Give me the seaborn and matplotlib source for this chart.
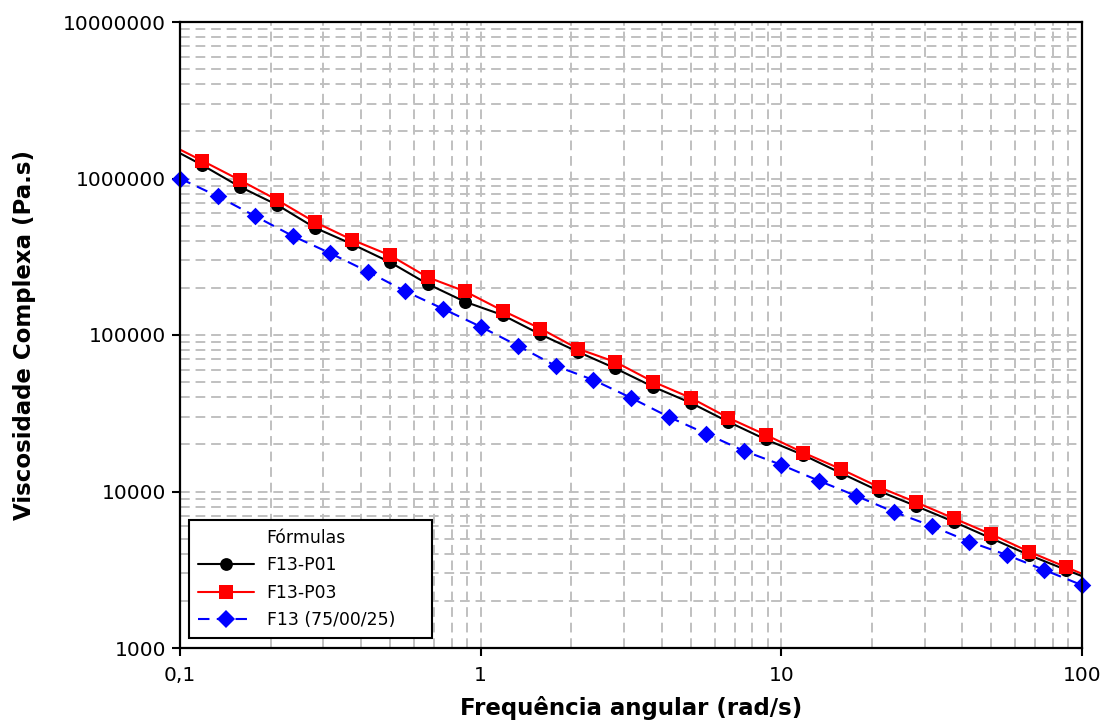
import numpy as np
import pandas as pd
import matplotlib
matplotlib.use("Agg")
import matplotlib.pyplot as plt
from matplotlib.lines import Line2D
from matplotlib.ticker import LogLocator, NullFormatter
import seaborn as sns

# Angular frequency (rad/s) of the measured points
freq_p = [0.1184, 0.1579, 0.2105, 0.2807, 0.3744, 0.4992, 0.6657, 0.8877,
          1.184, 1.579, 2.105, 2.807, 3.744, 4.992, 6.657, 8.877,
          11.84, 15.79, 21.05, 28.07, 37.44, 49.92, 66.57, 88.77]
freq_ref = [0.1, 0.1334, 0.1778, 0.2371, 0.3162, 0.4217, 0.5623, 0.7499,
            1.0, 1.334, 1.778, 2.371, 3.162, 4.217, 5.623, 7.499,
            10.0, 13.34, 17.78, 23.71, 31.62, 42.17, 56.23, 74.99, 100.0]

# Complex viscosity (Pa.s)
eta_p01 = [1.22e6, 8.87e5, 6.78e5, 4.85e5, 3.80e5, 2.92e5, 2.12e5, 1.63e5,
           1.34e5, 1.01e5, 7.81e4, 6.12e4, 4.67e4, 3.69e4, 2.79e4, 2.15e4,
           1.71e4, 1.31e4, 1.01e4, 8.07e3, 6.41e3, 5.02e3, 3.93e3, 3.15e3]
eta_p03 = [1.30e6, 9.78e5, 7.29e5, 5.27e5, 4.05e5, 3.23e5, 2.34e5, 1.90e5,
           1.43e5, 1.10e5, 8.17e4, 6.72e4, 5.03e4, 3.97e4, 2.96e4, 2.30e4,
           1.77e4, 1.39e4, 1.07e4, 8.53e3, 6.74e3, 5.33e3, 4.13e3, 3.28e3]
eta_ref = [1.0e6, 7.7e5, 5.75e5, 4.29e5, 3.33e5, 2.54e5, 1.90e5, 1.47e5,
           1.13e5, 8.51e4, 6.34e4, 5.16e4, 3.97e4, 3.0e4, 2.34e4, 1.82e4,
           1.48e4, 1.17e4, 9.36e3, 7.40e3, 6.02e3, 4.78e3, 3.93e3, 3.15e3, 2.52e3]

# Fitted curve ends at the edges of the frequency window
edge_freq = [0.1, 100.0]
edge_p01 = [1.45e6, 2.88e3]
edge_p03 = [1.53e6, 2.98e3]

series_names = ["F13-P01", "F13-P03", "F13 (75/00/25)"]
legend_title = "Fórmulas"
x_ticks = [0.1, 1, 10, 100]
x_tick_labels = ["0,1", "1", "10", "100"]
y_ticks = [1e3, 1e4, 1e5, 1e6, 1e7]
y_tick_labels = ["1000", "10000", "100000", "1000000", "10000000"]

sns.set_style("white")
plt.rcParams["font.family"] = ["DejaVu Sans"]
plt.rcParams["text.color"] = "black"
plt.rcParams["axes.labelcolor"] = "black"

fig = plt.figure(figsize=(11.06, 7.2), dpi=100)
ax = fig.add_axes([180 / 1106, 1 - 648 / 720, 902 / 1106, 626 / 720])

line_p01 = pd.DataFrame({"x": [edge_freq[0]] + freq_p + [edge_freq[1]],
                         "y": [edge_p01[0]] + eta_p01 + [edge_p01[1]]})
line_p03 = pd.DataFrame({"x": [edge_freq[0]] + freq_p + [edge_freq[1]],
                         "y": [edge_p03[0]] + eta_p03 + [edge_p03[1]]})
line_ref = pd.DataFrame({"x": freq_ref, "y": eta_ref})

red, black, blue = "#ff0000", "#000000", "#0000ff"
blue_dash = (0, (5.5, 3.5))

sns.lineplot(data=line_p03, x="x", y="y", ax=ax, color=red, lw=1.5, zorder=3)
sns.lineplot(data=line_p01, x="x", y="y", ax=ax, color=black, lw=1.5, zorder=4)
sns.lineplot(data=line_ref, x="x", y="y", ax=ax, color=blue, lw=1.5,
             linestyle=blue_dash, zorder=4)

sns.scatterplot(x=freq_p, y=eta_p01, ax=ax, marker="o", s=88, color=black,
                linewidth=0, zorder=5, clip_on=False)
sns.scatterplot(x=freq_p, y=eta_p03, ax=ax, marker="s", s=95, color=red,
                linewidth=0, zorder=6, clip_on=False)
sns.scatterplot(x=freq_ref, y=eta_ref, ax=ax, marker="D", s=80, color=blue,
                linewidth=0, zorder=6, clip_on=False)

ax.set_xscale("log")
ax.set_yscale("log")
ax.set_xlim(0.1, 100)
ax.set_ylim(1e3, 1e7)

ax.set_xticks(x_ticks)
ax.set_xticklabels(x_tick_labels)
ax.set_yticks(y_ticks)
ax.set_yticklabels(y_tick_labels)
ax.xaxis.set_minor_locator(LogLocator(base=10, subs=np.arange(2, 10)))
ax.yaxis.set_minor_locator(LogLocator(base=10, subs=np.arange(2, 10)))
ax.xaxis.set_minor_formatter(NullFormatter())
ax.yaxis.set_minor_formatter(NullFormatter())

ax.tick_params(axis="both", which="major", direction="out", length=6, width=1.5,
               color="black", labelsize=14.5, labelcolor="black")
ax.tick_params(axis="x", which="major", pad=7)
ax.tick_params(axis="y", which="major", pad=4)
ax.tick_params(axis="both", which="minor", length=0)
ax.tick_params(axis="both", which="both", bottom=True, left=True, top=False, right=False)

ax.grid(True, which="both", color="#c0c0c0", linestyle=(0, (5, 3)), lw=1.4, zorder=0)
ax.set_axisbelow(True)
for sp in ax.spines.values():
    sp.set_color("black")
    sp.set_linewidth(1.6)
    sp.set_zorder(7)

ax.set_xlabel("Frequência angular (rad/s)", fontsize=16.5, fontweight="bold", color="black")
ax.set_ylabel("Viscosidade Complexa (Pa.s)", fontsize=16.5, fontweight="bold", color="black")
ax.xaxis.set_label_coords(0.5, -0.076)
ax.yaxis.set_label_coords(-0.16, 0.5)

handles = [
    Line2D([], [], linestyle="none", marker=None),
    Line2D([], [], color=black, lw=1.5, marker="o", markersize=9.2, markeredgewidth=0),
    Line2D([], [], color=red, lw=1.5, marker="s", markersize=9.6, markeredgewidth=0),
    Line2D([], [], color=blue, lw=1.5, linestyle=blue_dash, marker="D", markersize=9.0,
           markeredgewidth=0),
]
labels = [legend_title] + series_names
leg = ax.legend(handles, labels, loc="lower left",
                bbox_to_anchor=(0.01, 0.016, 243 / 902, 0.2), mode="expand",
                borderaxespad=0, fontsize=12.4, frameon=True, fancybox=False,
                edgecolor="black", framealpha=1, handlelength=3.3,
                handletextpad=0.7, labelspacing=0.55, borderpad=0.5)
leg.get_frame().set_linewidth(1.5)
leg.set_zorder(10)
for t in leg.get_texts():
    t.set_color("black")

fig.savefig("out.png", dpi=100)
